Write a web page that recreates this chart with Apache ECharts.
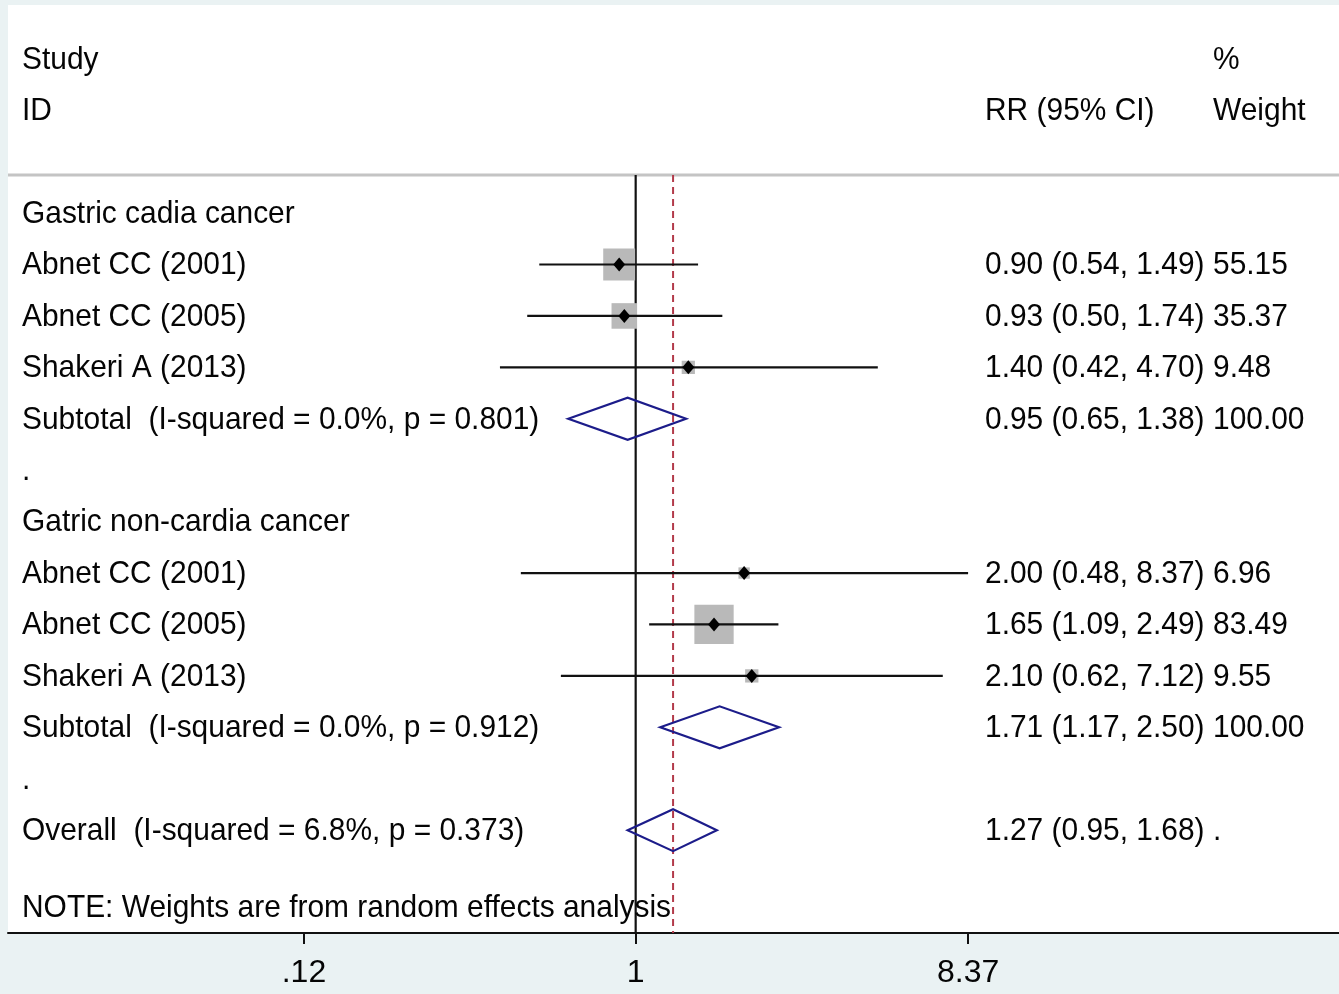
<!DOCTYPE html>
<html>
<head>
<meta charset="utf-8">
<title>Forest plot: RR by gastric cancer site</title>
<script src="https://cdn.jsdelivr.net/npm/echarts@6/dist/echarts.min.js"></script>
<style>
  html, body { margin: 0; padding: 0; background: #eaf2f3; }
  #chart { width: 1339px; height: 994px; }
</style>
</head>
<body>
<div id="chart"></div>
<script>
// ---- data ----------------------------------------------------------------
const tickValues = [0.12, 1, 8.37];
const tickLabels = ['.12', '1', '8.37'];

const headerRows = [-3, -2];
const headerLabels = [['Study', '', '%'], ['ID', 'RR (95% CI)', 'Weight']];

const groupRows = [0, 6];
const groupLabels = ['Gastric cadia cancer', 'Gatric non-cardia cancer'];

const studyRows = [1, 2, 3, 7, 8, 9];
const studyLabels = ['Abnet CC (2001)', 'Abnet CC (2005)', 'Shakeri A (2013)',
                     'Abnet CC (2001)', 'Abnet CC (2005)', 'Shakeri A (2013)'];
const studyRR     = [0.90, 0.93, 1.40, 2.00, 1.65, 2.10];
const studyLo     = [0.54, 0.50, 0.42, 0.48, 1.09, 0.62];
const studyHi     = [1.49, 1.74, 4.70, 8.37, 2.49, 7.12];
const studyWeight = [55.15, 35.37, 9.48, 6.96, 83.49, 9.55];

const pooledRows = [4, 10, 12];
const pooledLabels = ['Subtotal  (I-squared = 0.0%, p = 0.801)',
                      'Subtotal  (I-squared = 0.0%, p = 0.912)',
                      'Overall  (I-squared = 6.8%, p = 0.373)'];
const pooledRR     = [0.95, 1.71, 1.27];
const pooledLo     = [0.65, 1.17, 0.95];
const pooledHi     = [1.38, 2.50, 1.68];
const pooledWeight = ['100.00', '100.00', '.'];

const spacerRows = [5, 11];
const noteRow = 13.5;
const noteText = 'NOTE: Weights are from random effects analysis';

// ---- layout / style ------------------------------------------------------
const FONT = '"Liberation Sans", Arial, Helvetica, sans-serif';
const TEXT_SIZE = 32;
const TEXT_SCALE_X = 0.935;
const colX = [22, 985, 1213];
const ruleRow = -0.74;      // grey rule under the column headings
const axisEndRow = 14;      // bottom of the plot region
const BOX_SCALE = 4.3;      // box side = BOX_SCALE * sqrt(weight)
const DIAMOND_HALF = 21;

const fmt = v => v.toFixed(2);
const ciText = (rr, lo, hi) => `${fmt(rr)} (${fmt(lo)}, ${fmt(hi)})`;

// table rows: [label, RR (95% CI), weight] placed on a y-axis row
const tableRows = [];
headerRows.forEach((r, i) => tableRows.push({ row: r, cols: headerLabels[i] }));
groupRows.forEach((r, i) => tableRows.push({ row: r, cols: [groupLabels[i], '', ''] }));
studyRows.forEach((r, i) => tableRows.push({
  row: r,
  cols: [studyLabels[i], ciText(studyRR[i], studyLo[i], studyHi[i]), fmt(studyWeight[i])]
}));
pooledRows.forEach((r, i) => tableRows.push({
  row: r,
  cols: [pooledLabels[i], ciText(pooledRR[i], pooledLo[i], pooledHi[i]), pooledWeight[i]]
}));
spacerRows.forEach(r => tableRows.push({ row: r, cols: ['.', '', ''] }));
tableRows.push({ row: noteRow, cols: [noteText, '', ''] });

function renderTable(params, api) {
  const item = tableRows[params.dataIndex];
  const y = api.coord([1, item.row])[1] + 1;
  const children = [];
  item.cols.forEach((t, c) => {
    if (t === '') return;
    children.push({
      type: 'text', x: colX[c], y, scaleX: TEXT_SCALE_X,
      style: {
        text: t, fill: '#050505', fontSize: TEXT_SIZE, fontFamily: FONT,
        align: 'left', verticalAlign: 'middle'
      }
    });
  });
  return { type: 'group', children };
}

function renderRule(params, api) {
  const cs = params.coordSys;
  const y = api.coord([1, ruleRow])[1];
  return {
    type: 'line',
    shape: { x1: cs.x, y1: y, x2: cs.x + cs.width, y2: y },
    style: { stroke: '#c4c4c4', lineWidth: 3 }
  };
}

// vertical reference lines: null effect and overall estimate
const refValues = [1, pooledRR[2]];
const refStyles = [
  { stroke: '#111', lineWidth: 2.2 },
  { stroke: '#b23a4a', lineWidth: 2, lineDash: [7, 5] }
];
function renderRef(params, api) {
  const i = params.dataIndex;
  const a = api.coord([refValues[i], ruleRow]);
  const b = api.coord([refValues[i], axisEndRow]);
  return { type: 'line', shape: { x1: a[0], y1: a[1], x2: b[0], y2: b[1] }, style: refStyles[i] };
}

function renderStudy(params, api) {
  const i = params.dataIndex;
  const r = studyRows[i];
  const lo = api.coord([studyLo[i], r]);
  const hi = api.coord([studyHi[i], r]);
  const c = api.coord([studyRR[i], r]);
  const s = BOX_SCALE * Math.sqrt(studyWeight[i]);
  return {
    type: 'group',
    children: [
      { type: 'rect', shape: { x: c[0] - s / 2, y: c[1] - s / 2, width: s, height: s },
        style: { fill: '#b9b9b9' } },
      { type: 'line', shape: { x1: lo[0], y1: lo[1], x2: hi[0], y2: hi[1] },
        style: { stroke: '#111', lineWidth: 2.2 } },
      { type: 'polygon',
        shape: { points: [[c[0] - 6, c[1]], [c[0], c[1] - 7], [c[0] + 6, c[1]], [c[0], c[1] + 7]] },
        style: { fill: '#000' } }
    ]
  };
}

function renderPooled(params, api) {
  const i = params.dataIndex;
  const r = pooledRows[i];
  const lo = api.coord([pooledLo[i], r]);
  const hi = api.coord([pooledHi[i], r]);
  const c = api.coord([pooledRR[i], r]);
  return {
    type: 'polygon',
    shape: { points: [[lo[0], lo[1]], [c[0], c[1] - DIAMOND_HALF], [hi[0], hi[1]], [c[0], c[1] + DIAMOND_HALF]] },
    style: { fill: 'none', stroke: '#1c1c8a', lineWidth: 2.2 }
  };
}

const chart = echarts.init(document.getElementById('chart'), null, { renderer: 'canvas' });
chart.setOption({
  animation: false,
  backgroundColor: '#eaf2f3',
  grid: { left: 8, right: 0, top: 5, bottom: 61, show: true, backgroundColor: '#ffffff', borderWidth: 0 },
  xAxis: {
    type: 'log',
    min: 0.0181,
    max: 89.6,
    axisLine: { show: true, onZero: false, lineStyle: { color: '#111', width: 2 } },
    axisTick: { show: true, length: 11, lineStyle: { color: '#111', width: 2 }, customValues: tickValues },
    axisLabel: {
      customValues: tickValues,
      margin: 24,
      color: '#050505',
      fontSize: TEXT_SIZE,
      fontFamily: FONT,
      formatter: v => {
        const k = tickValues.findIndex(t => Math.abs(t - v) < 1e-6);
        return k >= 0 ? tickLabels[k] : '';
      }
    },
    splitLine: { show: false },
    minorTick: { show: false }
  },
  yAxis: { type: 'value', inverse: true, min: -4.047, max: 14, show: false },
  series: [
    { type: 'custom', name: 'rule', z: 1, renderItem: renderRule, data: [[1, ruleRow]] },
    { type: 'custom', name: 'reference', z: 2, renderItem: renderRef,
      data: refValues.map(v => [v, axisEndRow]) },
    { type: 'custom', name: 'pooled', z: 3, renderItem: renderPooled,
      data: pooledRows.map((r, i) => [pooledRR[i], r]) },
    { type: 'custom', name: 'studies', z: 4, renderItem: renderStudy,
      data: studyRows.map((r, i) => [studyRR[i], r]) },
    { type: 'custom', name: 'table', z: 5, renderItem: renderTable,
      data: tableRows.map(t => [1, t.row]) }
  ]
});
</script>
</body>
</html>
